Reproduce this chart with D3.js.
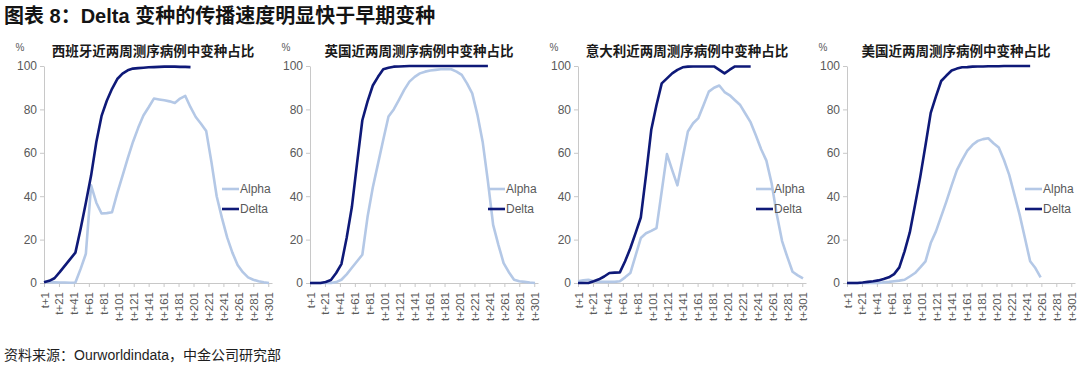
<!DOCTYPE html>
<html><head><meta charset="utf-8">
<script src="https://cdn.jsdelivr.net/npm/d3@7"></script>
<style>body{margin:0;background:#fff;} svg{display:block}</style>
</head><body><svg id="c" width="1080" height="366"></svg>
<script>
const chartTitle = "图表 8：Delta 变种的传播速度明显快于早期变种";
const sourceNote = "资料来源：Ourworldindata，中金公司研究部";
const panelTitles = ["西班牙近两周测序病例中变种占比", "英国近两周测序病例中变种占比", "意大利近两周测序病例中变种占比", "美国近两周测序病例中变种占比"];
const seriesNames = ["Alpha", "Delta"];
const unitLabel = "%";
const days = [1,8,15,22,29,36,43,50,57,64,71,78,85,92,99,106,113,120,127,134,141,148,155,162,169,176,183,190,197,204,211,218,225,232,239,246,253,260,267,274,281,288,295,302];
const xTickDays = [1,21,41,61,81,101,121,141,161,181,201,221,241,261,281,301];
const xTickLabels = ["t+1","t+21","t+41","t+61","t+81","t+101","t+121","t+141","t+161","t+181","t+201","t+221","t+241","t+261","t+281","t+301"];
const yTicks = [0,20,40,60,80,100];

const spainAlpha = [0.5,0.4,0.3,0.2,0.2,0.1,0.2,6.5,13.5,45,37,32,32.2,32.6,41.4,49.4,57.4,65,71.5,77.2,81,85,84.6,84.2,83.7,83,85,86.2,81,76.5,73.4,70,55.7,40,30,21,14,8.3,5,2.6,1.5,0.8,0.3,0];
const spainDelta = [0.3,1,2.2,5,8,11,14,25,37,49.5,65,77,84,89.5,94,96.5,98,98.8,99,99.2,99.4,99.5,99.6,99.7,99.7,99.7,99.6,99.6,99.5,null,null,null,null,null,null,null,null,null,null,null,null,null,null,null];
const ukAlpha = [0,0,0,0,0,0.4,1.5,4,7,10,13,30.5,44,55,66,76.7,80,84.4,89,92.8,95,96.6,97.4,97.9,98.2,98.5,98.5,98.5,97.4,95.9,92,87.4,77.5,65,46.8,26.8,17.6,9.2,5,1.5,0.8,0.5,0.2,0];
const ukDelta = [0,0,0,0.5,1.4,4.6,8.7,20.7,35,55.4,75,83.7,91,95,98.5,99.2,99.7,99.8,99.9,100,100,100,100,100,100,100,100,100,100,100,100,100,100,100,100,null,null,null,null,null,null,null,null,null];
const italyAlpha = [0.8,1.2,1.5,0.8,0.5,0.5,0.5,0.5,0.8,2.6,4.6,12.6,20.7,22.9,24,25.3,42.3,59.4,52,45,57.6,69.8,73.6,76,82,88.2,90,91,88,86.5,84.2,82,78,74,68,61.6,56.4,46,31.4,19.3,12,5.2,3.5,2.1];
const italyDelta = [0,0,0,0.8,1.7,3,4.6,4.8,4.9,10,16,23,30.2,49.7,70.6,82,92,94.3,96.6,98.2,99.4,99.7,99.8,99.8,99.8,99.8,99.8,98.2,96.6,98.3,99.8,99.8,99.8,99.8,null,null,null,null,null,null,null,null,null,null];
const usAlpha = [0,0,0,0,0,0,0,0.3,0.5,0.8,1.1,1.5,3,4.6,7.2,10,18.4,23.8,30.7,37.6,45,52,56.7,61,63.7,65.5,66.3,66.7,64.4,62.4,56.7,49.8,40.6,31.4,20.7,10,6.9,2.6,null,null,null,null,null,null];
const usDelta = [0,0,0,0.2,0.5,0.8,1.2,1.8,2.6,4.1,7.2,14.6,23.3,35.9,48.9,63.5,78.4,86,93.1,95.6,97.9,98.8,99.4,99.5,99.7,99.8,99.8,99.9,99.9,99.9,100,100,100,100,100,100,null,null,null,null,null,null,null,null];

const alphaSeries = [spainAlpha, ukAlpha, italyAlpha, usAlpha];
const deltaSeries = [spainDelta, ukDelta, italyDelta, usDelta];

const colors = {Alpha: "#b4c8e6", Delta: "#0e1978"};
const panelLeft = [44, 310, 578, 847];
const plotW = 228, plotTop = 66, plotBottom = 283;
const cjk = "'Noto Sans CJK SC', 'Liberation Sans', sans-serif";
const latin = "'Liberation Sans', 'Noto Sans CJK SC', sans-serif";

const svg = d3.select("#c");

svg.append("text").attr("x", 4).attr("y", 23)
  .style("font-family", latin).style("font-size", "20px").style("font-weight", "bold")
  .attr("fill", "#141414").text(chartTitle);

svg.append("text").attr("x", 4).attr("y", 360)
  .style("font-family", latin).style("font-size", "14px")
  .attr("fill", "#1e1e1e").text(sourceNote);

panelTitles.forEach((title, p) => {
  const x0 = panelLeft[p];
  const g = svg.append("g");
  const x = d3.scaleLinear().domain([1, 306]).range([x0, x0 + plotW]);
  const y = d3.scaleLinear().domain([0, 100]).range([plotBottom, plotTop]);

  g.append("text").attr("x", x0 + 109).attr("y", 56).attr("text-anchor", "middle")
    .style("font-family", cjk).style("font-size", "13.5px").style("font-weight", "bold")
    .attr("fill", "#1a1a1a").text(title);

  g.append("text").attr("x", x0 - 24).attr("y", 51).attr("text-anchor", "middle")
    .style("font-family", latin).style("font-size", "10px").attr("fill", "#595959").text(unitLabel);

  const ya = g.append("g").attr("transform", `translate(${x0},0)`)
    .call(d3.axisLeft(y).tickValues(yTicks).tickSize(4).tickSizeOuter(0).tickPadding(3));
  ya.select(".domain").attr("stroke", "#c8c8c8");
  ya.selectAll(".tick line").attr("stroke", "#c8c8c8");
  ya.selectAll("text").style("font-family", latin).style("font-size", "12px").attr("fill", "#595959");

  const xa = g.append("g").attr("transform", `translate(0,${plotBottom})`)
    .call(d3.axisBottom(x).tickValues(xTickDays).tickFormat((d, i) => xTickLabels[i]).tickSize(4).tickSizeOuter(0));
  xa.select(".domain").attr("stroke", "#c8c8c8");
  xa.selectAll(".tick line").attr("stroke", "#c8c8c8");
  xa.selectAll("text").attr("transform", "rotate(-90)").attr("text-anchor", "end")
    .attr("x", -9).attr("y", 0).attr("dy", "0.35em")
    .style("font-family", latin).style("font-size", "11.5px").attr("fill", "#595959");

  const line = d3.line().defined(d => d.v != null).x(d => x(d.d)).y(d => y(d.v));
  [["Alpha", alphaSeries[p]], ["Delta", deltaSeries[p]]].forEach(([name, vals]) => {
    const pts = days.map((d, i) => ({d, v: vals[i]}));
    g.append("path").datum(pts).attr("d", line).attr("fill", "none")
      .attr("stroke", colors[name]).attr("stroke-width", 2.6)
      .attr("stroke-linejoin", "round").attr("stroke-linecap", "butt");
  });

  seriesNames.forEach((name, i) => {
    const ly = plotTop + 123 + i * 20;
    g.append("line").attr("x1", x0 + 178).attr("x2", x0 + 195).attr("y1", ly).attr("y2", ly)
      .attr("stroke", colors[name]).attr("stroke-width", 2.6);
    g.append("text").attr("x", x0 + 196).attr("y", ly).attr("dy", "0.35em")
      .style("font-family", latin).style("font-size", "12px").attr("fill", "#595959").text(name);
  });
});
</script></body></html>
